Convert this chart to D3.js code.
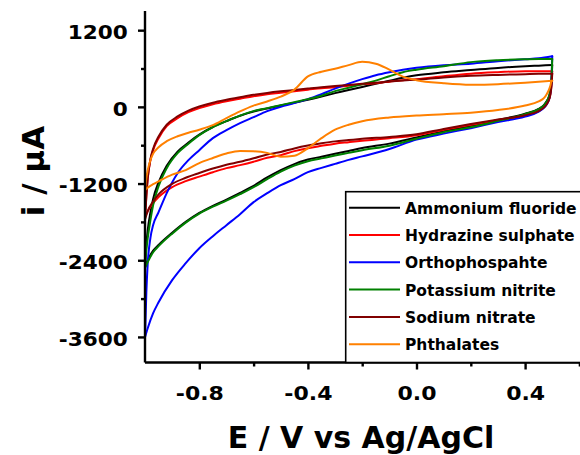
<!DOCTYPE html>
<html lang="en">
<head>
    <meta charset="UTF-8">
    <title>CV - electrolytes</title>
    <script src="https://d3js.org/d3.v7.min.js"></script>
    <style>
        body { margin: 0; background: white; }
        svg text { font-family: "DejaVu Sans", sans-serif; font-weight: bold; fill: black; }
        .axis path, .axis line { stroke: black; stroke-width: 2.4px; }
        path.cv { fill: none; stroke-width: 2px; stroke-linecap: round; stroke-linejoin: round; }
    </style>
</head>
<body>
<svg id="canvas" width="580" height="455"></svg>
<script>
    // legend names, same order as the legend
    const categories = ["Ammonium fluoride", "Hydrazine sulphate", "Orthophospahte",
                        "Potassium nitrite", "Sodium nitrate", "Phthalates"];
    const colors = ["#000000", "#ff0000", "#0000ff", "#008000", "#800000", "#ff8000"];

    // potential (V) for forward scan (-1.0 -> 0.5) and reverse scan (0.5 -> -1.0)
    const potentialUp = [-1.0, -0.995, -0.99, -0.98, -0.97, -0.95, -0.92, -0.88, -0.84, -0.8,
        -0.75, -0.7, -0.65, -0.6, -0.55, -0.5, -0.45, -0.4, -0.35, -0.3, -0.25, -0.2, -0.15,
        -0.1, -0.05, 0, 0.1, 0.2, 0.3, 0.4, 0.45, 0.5];
    const potentialDown = [0.5, 0.497, 0.493, 0.487, 0.48, 0.47, 0.45, 0.4, 0.3, 0.2, 0.1, 0,
        -0.1, -0.2, -0.25, -0.3, -0.35, -0.4, -0.45, -0.5, -0.55, -0.6, -0.65, -0.7, -0.75,
        -0.8, -0.85, -0.9, -0.95, -0.97, -0.99, -1.0];

    // current (uA)
    const ammoniumUp = [-2500, -2150, -1930, -1650, -1440, -1180, -920, -700, -560, -435, -315, -224,
        -140, -72, -25, 20, 65, 110, 160, 215, 265, 312, 360, 408, 455, 494, 540, 575, 610, 635, 645, 655];
    const ammoniumDown = [655, 400, 250, 150, 90, 30, -30, -108, -205, -300, -380, -478, -575, -645,
        -690, -735, -780, -825, -895, -990, -1105, -1235, -1345, -1450, -1548, -1660, -1800, -1970,
        -2160, -2250, -2400, -2500];

    const hydrazineUp = [-1726, -1382, -1116, -834, -678, -490, -302, -177, -83, -20, 42, 89, 128, 167,
        199, 222, 246, 269, 293, 308, 332, 355, 371, 394, 418, 434, 480, 520, 543, 559, 559, 559];
    const hydrazineDown = [559, 340, 199, 105, 50, -5, -67, -138, -208, -279, -357, -443, -490, -529,
        -552, -576, -610, -646, -693, -756, -795, -858, -912, -959, -1022, -1092, -1163, -1257, -1413,
        -1507, -1632, -1726];

    const orthoUp = [-3605, -2900, -2450, -2050, -1850, -1648, -1350, -1038, -834, -678, -490, -365,
        -255, -161, -67, 3, 58, 121, 199, 285, 363, 434, 496, 543, 582, 613, 653, 676, 715, 746, 760, 793];
    const orthoDown = [793, 387, 214, 105, 42, -13, -75, -153, -239, -333, -419, -513, -660, -775,
        -830, -892, -955, -1022, -1131, -1225, -1351, -1491, -1680, -1851, -2023, -2211, -2446, -2712,
        -3057, -3229, -3464, -3605];

    const potassiumUp = [-2524, -2243, -2055, -1773, -1538, -1241, -959, -725, -576, -443, -318, -224,
        -138, -67, -20, 27, 74, 121, 175, 246, 300, 355, 410, 480, 543, 582, 637, 700, 730, 745, 750, 750];
    const potassiumDown = [750, 418, 261, 152, 89, 27, -36, -114, -219, -318, -396, -498, -607, -678,
        -720, -762, -806, -850, -920, -1014, -1131, -1257, -1366, -1468, -1562, -1671, -1812, -1984,
        -2180, -2274, -2430, -2524];

    const sodiumUp = [-1760, -1400, -1120, -820, -655, -465, -280, -150, -60, 5, 65, 110, 150, 188,
        218, 243, 265, 287, 308, 325, 343, 362, 378, 396, 412, 425, 460, 485, 500, 512, 518, 520];
    const sodiumDown = [520, 320, 190, 100, 45, -8, -65, -130, -198, -268, -345, -430, -470, -500,
        -520, -540, -570, -605, -650, -705, -745, -805, -860, -905, -965, -1035, -1110, -1205, -1370,
        -1480, -1630, -1760];

    const phthalatesUp = [-1303, -1116, -991, -834, -732, -631, -537, -459, -404, -357, -286, -175,
        -70, 20, 85, 160, 269, 477, 549, 595, 653, 704, 676, 582, 473, 418, 371, 347, 355, 379, 394, 410];
    const phthalatesDown = [410, 400, 330, 260, 200, 140, 85, 20, -50, -91, -114, -135, -166, -224,
        -279, -357, -490, -646, -764, -780, -720, -695, -690, -729, -800, -880, -990, -1060, -1165,
        -1210, -1264, -1303];

    const seriesUp = [ammoniumUp, hydrazineUp, orthoUp, potassiumUp, sodiumUp, phthalatesUp];
    const seriesDown = [ammoniumDown, hydrazineDown, orthoDown, potassiumDown, sodiumDown, phthalatesDown];

    const xTicks = [-0.8, -0.4, 0.0, 0.4];
    const xMinor = [-0.6, -0.2, 0.2, 0.6];
    const yTicks = [-3600, -2400, -1200, 0, 1200];
    const yMinor = [-3000, -1800, -600, 600];

    let svg = d3.select('svg');

    let x = d3.scaleLinear().domain([-1.0, 0.6]).range([145, 579.4]);
    let y = d3.scaleLinear().domain([-4000, 1500]).range([362.5, 11]);

    // each branch drawn left to right, monotone in x so the vertices stay sharp
    let line = d3.line()
        .x(d => x(d[0]))
        .y(d => y(d[1]))
        .curve(d3.curveMonotoneX);

    let plot = svg.append('g');
    categories.forEach((name, i) => {
        let up = potentialUp.map((v, j) => [v, seriesUp[i][j]]);
        let down = potentialDown.map((v, j) => [v, seriesDown[i][j]]).reverse();
        let g = plot.append('g').attr('stroke', colors[i]);
        g.append('path').attr('class', 'cv').attr('d', line(up));
        g.append('path').attr('class', 'cv').attr('d', line(down));
    });

    // axes
    let fmtX = d => (d < 0 ? "-" : "") + Math.abs(d).toFixed(1);

    let xMin = svg.append('g').attr('class', 'axis')
        .attr('transform', 'translate(0,362.5)')
        .call(d3.axisBottom(x).tickValues(xMinor).tickSize(4).tickFormat(''));
    xMin.select('.domain').remove();

    let xAx = svg.append('g').attr('class', 'axis')
        .attr('transform', 'translate(0,362.5)')
        .call(d3.axisBottom(x).tickValues(xTicks).tickSize(7).tickFormat(fmtX));
    xAx.select('.domain').attr('d', 'M145,0H580');
    xAx.selectAll('text')
        .attr('y', 37.5).attr('dy', 0)
        .attr('font-size', 20)
        .attr('transform', 'scale(1.1,1)');

    let yMin = svg.append('g').attr('class', 'axis')
        .attr('transform', 'translate(145,0)')
        .call(d3.axisLeft(y).tickValues(yMinor).tickSize(4).tickFormat(''));
    yMin.select('.domain').remove();

    let yAx = svg.append('g').attr('class', 'axis')
        .attr('transform', 'translate(145,0)')
        .call(d3.axisLeft(y).tickValues(yTicks).tickSize(7).tickPadding(9).tickFormat(d => String(d)));
    yAx.select('.domain').attr('d', 'M0,' + y.range()[1] + 'V' + y.range()[0]);
    yAx.selectAll('text')
        .attr('dy', '0.42em')
        .attr('font-size', 20)
        .attr('transform', 'scale(1.08,1)');

    // axis titles
    svg.append('text')
        .attr('x', 361).attr('y', 448)
        .attr('text-anchor', 'middle')
        .attr('font-size', 30)
        .text('E / V vs Ag/AgCl');

    svg.append('text')
        .attr('transform', 'translate(44,171) rotate(-90)')
        .attr('text-anchor', 'middle')
        .attr('font-size', 31)
        .text('i / µA');

    // legend
    let legend = svg.append('g');
    legend.append('rect')
        .attr('x', 345.7).attr('y', 191.7)
        .attr('width', 250).attr('height', 170.8)
        .attr('fill', 'white')
        .attr('stroke', 'black')
        .attr('stroke-width', 1.6);

    categories.forEach((name, i) => {
        let ry = 207.7 + i * 27.3;
        legend.append('line')
            .attr('x1', 349).attr('x2', 400)
            .attr('y1', ry).attr('y2', ry)
            .attr('stroke', colors[i])
            .attr('stroke-width', 2);
        legend.append('text')
            .attr('x', 405).attr('y', ry + 6)
            .attr('font-size', 15.5)
            .text(name);
    });
</script>
</body>
</html>
